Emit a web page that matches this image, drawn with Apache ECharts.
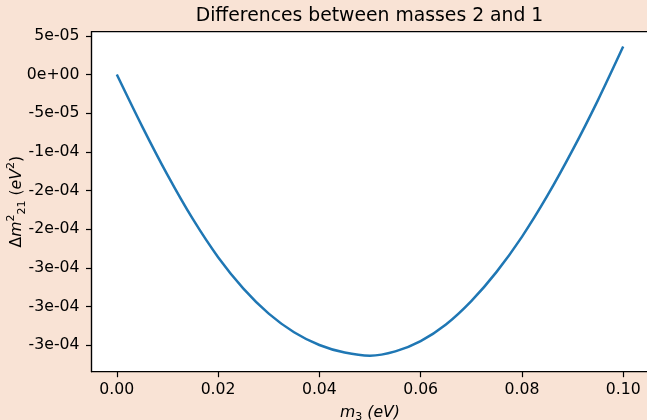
<!DOCTYPE html>
<html>
<head>
<meta charset="utf-8">
<script src="https://cdn.jsdelivr.net/npm/echarts@6/dist/echarts.min.js"></script>
<style>
html,body{margin:0;padding:0;background:#f9e3d5;}
#chart{width:647px;height:420px;}
</style>
</head>
<body>
<div id="chart"></div>
<script>
// m3 (eV) values
const m3Values = [0.0, 0.005, 0.01, 0.015, 0.02, 0.025, 0.03, 0.035, 0.04, 0.045, 0.05, 0.055, 0.06, 0.065, 0.07, 0.075, 0.08, 0.085, 0.09, 0.095, 0.1];
// Delta m^2_21 (eV^2) values
const dm21Values = [0.0, -6.70e-5, -1.298e-4, -1.868e-4, -2.362e-4, -2.768e-4, -3.092e-4, -3.333e-4, -3.498e-4, -3.596e-4, -3.636e-4, -3.580e-4, -3.447e-4, -3.232e-4, -2.930e-4, -2.552e-4, -2.099e-4, -1.571e-4, -9.79e-5, -3.34e-5, 3.61e-5];

const xTickValues = [0, 0.02, 0.04, 0.06, 0.08, 0.1];
const xTickLabels = ["0.00", "0.02", "0.04", "0.06", "0.08", "0.10"];
const yTickValues = [5e-5, 0, -5e-5, -1e-4, -1.5e-4, -2e-4, -2.5e-4, -3e-4, -3.5e-4];
const yTickLabels = ["5e-05", "0e+00", "-5e-05", "-1e-04", "-2e-04", "-2e-04", "-3e-04", "-3e-04", "-3e-04"];

const titleText = "Differences between masses 2 and 1";

function lookup(values, labels, v) {
  for (let i = 0; i < values.length; i++) {
    if (Math.abs(values[i] - v) < 1e-9) return labels[i];
  }
  return "";
}

const FONT = "DejaVu Sans";
const TICK_FS = 15.7;

const chart = echarts.init(document.getElementById('chart'), null, {renderer: 'canvas'});
const seriesData = m3Values.map((x, i) => [x, dm21Values[i]]);

chart.setOption({
  backgroundColor: '#f9e3d5',
  animation: false,
  title: {
    text: titleText,
    left: 369.5,
    top: 7,
    padding: 0,
    textAlign: 'center',
    textStyle: {fontFamily: FONT, fontSize: 18.8, fontWeight: 'normal', color: '#000'}
  },
  grid: {
    left: 91.5, right: -1.5, top: 31.7, bottom: 48.3,
    show: true, backgroundColor: '#ffffff', borderColor: '#000', borderWidth: 1.2,
    containLabel: false,
    outerBoundsMode: 'none'
  },
  xAxis: {
    type: 'value',
    min: -0.005, max: 0.105,
    splitLine: {show: false},
    axisLine: {show: true, onZero: false, lineStyle: {color: '#000', width: 1.2}},
    axisTick: {show: true, length: 5.5, customValues: xTickValues, lineStyle: {color: '#000', width: 1.2}},
    axisLabel: {
      customValues: xTickValues, margin: 10,
      fontFamily: FONT, fontSize: TICK_FS, color: '#000',
      formatter: v => lookup(xTickValues, xTickLabels, v)
    },
    name: '{i|m}{sub|3}{n| }{i|(eV)}',
    nameLocation: 'middle',
    nameGap: 31,
    nameMoveOverlap: false,
    nameTextStyle: {
      fontFamily: FONT, fontSize: TICK_FS, color: '#000',
      rich: {
        i: {fontFamily: FONT, fontStyle: 'italic', fontSize: TICK_FS, color: '#000', lineHeight: 20, verticalAlign: 'middle'},
        n: {fontFamily: FONT, fontSize: TICK_FS, color: '#000', lineHeight: 20, verticalAlign: 'middle'},
        sub: {fontFamily: FONT, fontSize: 11, color: '#000', lineHeight: 12, verticalAlign: 'bottom'}
      }
    }
  },
  yAxis: {
    type: 'value',
    min: -3.843e-4, max: 5.534e-5,
    splitLine: {show: false},
    axisLine: {show: true, onZero: false, lineStyle: {color: '#000', width: 1.2}},
    axisTick: {show: true, length: 5.5, customValues: yTickValues, lineStyle: {color: '#000', width: 1.2}},
    axisLabel: {
      customValues: yTickValues, margin: 12,
      fontFamily: FONT, fontSize: TICK_FS, color: '#000',
      formatter: v => lookup(yTickValues, yTickLabels, v)
    },
    name: '{n|Δ}{i|m}{sup|2}{sub|21}{n| (}{i|eV}{sup|2}{n|)}',
    nameLocation: 'middle',
    nameGap: 64,
    nameRotate: 90,
    nameMoveOverlap: false,
    nameTextStyle: {
      fontFamily: FONT, fontSize: TICK_FS, color: '#000',
      rich: {
        i: {fontFamily: FONT, fontStyle: 'italic', fontSize: TICK_FS, color: '#000', lineHeight: 22, verticalAlign: 'middle'},
        n: {fontFamily: FONT, fontSize: TICK_FS, color: '#000', lineHeight: 22, verticalAlign: 'middle'},
        sup: {fontFamily: FONT, fontSize: 11, color: '#000', lineHeight: 12, verticalAlign: 'top'},
        sub: {fontFamily: FONT, fontSize: 11, color: '#000', lineHeight: 12, verticalAlign: 'bottom'}
      }
    }
  },
  series: [{
    type: 'line',
    data: seriesData,
    smooth: 0.3,
    showSymbol: false,
    clip: true,
    lineStyle: {color: '#1f77b4', width: 2.5},
    itemStyle: {color: '#1f77b4'}
  }]
});
</script>
</body>
</html>
